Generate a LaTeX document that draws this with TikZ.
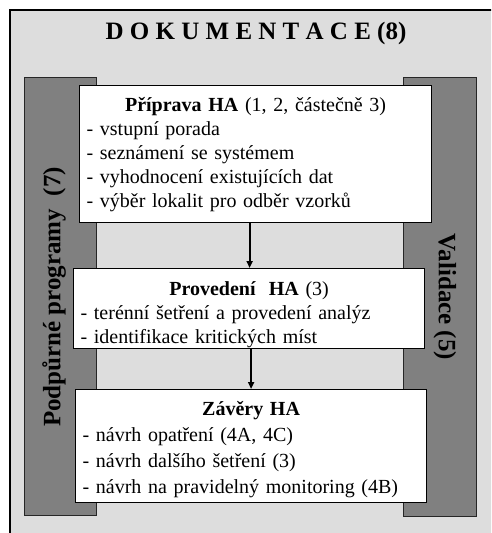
\documentclass[tikz,border=0pt]{standalone}
\usepackage{fontspec}
\setmainfont{Liberation Serif}
\definecolor{docgray}{HTML}{DDDDDD}
\definecolor{bargray}{HTML}{808080}
\usetikzlibrary{arrows.meta}

\begin{document}
\begin{tikzpicture}[x=1pt,y=-1pt,
  bar/.style={draw=black!85, fill=bargray, line width=0.8pt, inner sep=0pt, anchor=north west},
  stage/.style={draw=black, fill=white, line width=1.2pt, inner xsep=7pt, inner ysep=0pt,
    text width=338pt, align=left, anchor=north west, font=\fontsize{20}{24}\selectfont},
  sidetext/.style={font=\fontsize{25}{30}\selectfont\bfseries},
  flow/.style={-{Triangle[length=7pt,width=6pt]}, line width=2pt}]
  \clip (0,0) rectangle (491,533);
  % Documentation frame
  \draw[line width=2.5pt, fill=docgray] (10,10) rectangle (510,550);
  \node[font=\fontsize{25}{30}\selectfont\bfseries, anchor=base] (dok) at (256,39)
    {D O K U M E N T A C E (8)};
  % Side bars
  \node[bar, minimum width=72pt, minimum height=438pt] (podpora) at (24,77) {};
  \node[bar, minimum width=73pt, minimum height=439pt] (validace) at (403,77) {};
  \node[sidetext, rotate=90] (podporatext) at (54,297) {Podpůrné programy\ \ (7)};
  \node[sidetext, rotate=-90] (validacetext) at (445,297) {Validace (5)};
  % Stages
  \node[stage, text height=26pt, text depth=111pt] (priprava) at (79,85)
    {{\centering\textbf{Příprava HA} (1, 2, částečně 3)\par}
     - vstupní porada\\
     - seznámení se systémem\\
     - vyhodnocení existujících dat\\
     - výběr lokalit pro odběr vzorků};
  \node[stage, text width=337pt, text height=27pt, text depth=53pt] (provedeni) at (73,268)
    {{\centering\textbf{Provedení\ \ HA} (3)\par}
     - terénní šetření a provedení analýz\\
     - identifikace kritických míst};
  \node[stage, text width=337pt, text height=26pt, text depth=87pt,
    font=\fontsize{20}{26}\selectfont] (zavery) at (75,389)
    {{\centering\textbf{Závěry HA}\par}
     - návrh opatření (4A, 4C)\\
     - návrh dalšího šetření (3)\\
     - návrh na pravidelný monitoring (4B)};
  % Flow between stages
  \draw[flow] ([xshift=-6pt]priprava.south) -- ([xshift=-6pt]priprava.south |- provedeni.north);
  \draw[flow] ([xshift=2pt]provedeni.south) -- ([xshift=2pt]provedeni.south |- zavery.north);
\end{tikzpicture}
\end{document}
